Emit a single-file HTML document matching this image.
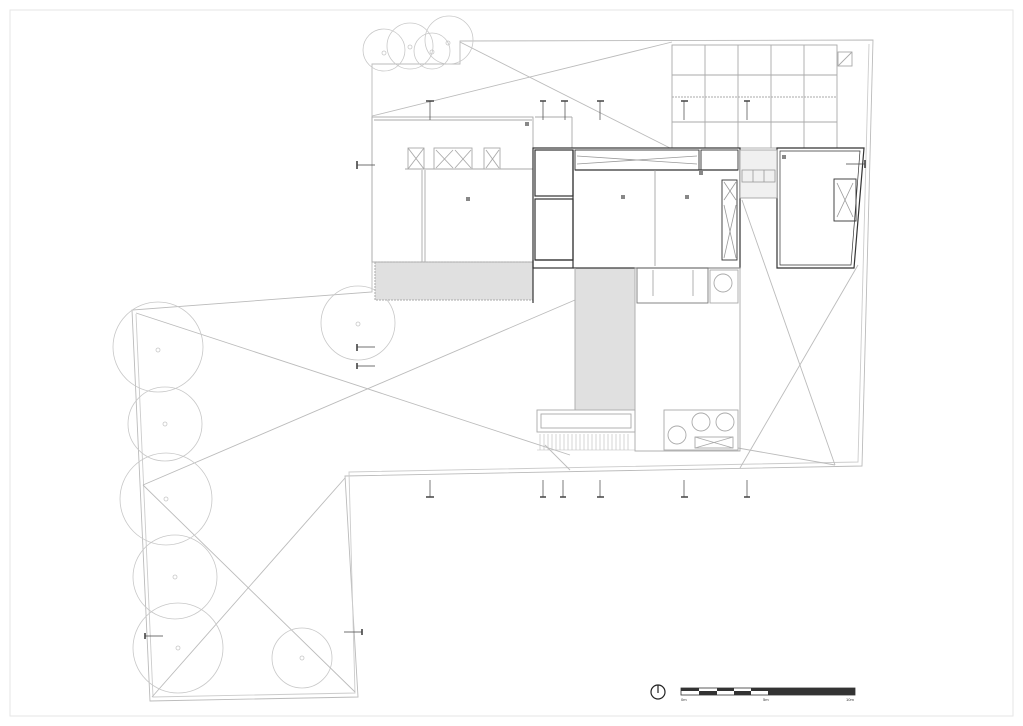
<!DOCTYPE html>
<html><head><meta charset="utf-8"><style>html,body{margin:0;padding:0;background:#fff}svg{display:block}</style></head>
<body>
<svg width="1023" height="726" viewBox="0 0 1023 726" xmlns="http://www.w3.org/2000/svg" font-family="Liberation Sans, sans-serif">
<rect x="10" y="10" width="1003" height="706" fill="none" stroke="#e6e6e6" stroke-width="1"/>
<g fill="none" stroke="#bbb" stroke-width="0.9">
<polygon points="372,64 460,64 460,41 873,40 862,466 345,476 358,697 150,701 132,310 372,292"/>
<polyline points="869,44 858,462 349,472 355,693 153,697 136,314" stroke="#ccc"/>
<line x1="136" y1="313" x2="570" y2="455"/>
<line x1="143" y1="485" x2="575" y2="300"/>
<line x1="143" y1="485" x2="355" y2="692"/>
<line x1="345" y1="478" x2="152" y2="697"/>
<line x1="460" y1="42" x2="670" y2="148"/>
<line x1="372" y1="116" x2="672" y2="42"/>
<line x1="742" y1="200" x2="835" y2="465"/>
<line x1="858" y1="265" x2="740" y2="468"/>
<line x1="545" y1="445" x2="570" y2="470"/>
<line x1="738" y1="448" x2="835" y2="465"/>
</g>
<g fill="none" stroke="#aaa" stroke-width="0.9">
<rect x="672" y="45" width="165" height="103"/>
<line x1="705" y1="45" x2="705" y2="148"/><line x1="738" y1="45" x2="738" y2="148"/>
<line x1="771" y1="45" x2="771" y2="148"/><line x1="804" y1="45" x2="804" y2="148"/>
<line x1="672" y1="75" x2="837" y2="75"/><line x1="672" y1="97" x2="837" y2="97" stroke-dasharray="2,1"/>
<line x1="672" y1="122" x2="837" y2="122"/>
<rect x="838" y="52" width="14" height="14"/><line x1="838" y1="66" x2="852" y2="52"/>
</g>
<g fill="none" stroke="#c8c8c8" stroke-width="0.8">
<circle cx="158" cy="347" r="45"/><circle cx="158" cy="350" r="2"/>
<circle cx="165" cy="424" r="37"/><circle cx="165" cy="424" r="2"/>
<circle cx="166" cy="499" r="46"/><circle cx="166" cy="499" r="2"/>
<circle cx="175" cy="577" r="42"/><circle cx="175" cy="577" r="2"/>
<circle cx="178" cy="648" r="45"/><circle cx="178" cy="648" r="2"/>
<circle cx="302" cy="658" r="30"/><circle cx="302" cy="658" r="2"/>
<circle cx="358" cy="323" r="37"/><circle cx="358" cy="324" r="2"/>
<circle cx="384" cy="50" r="21"/><circle cx="410" cy="46" r="23"/><circle cx="432" cy="51" r="18"/><circle cx="449" cy="40" r="24"/>
<circle cx="384" cy="53" r="2"/><circle cx="410" cy="47" r="2"/><circle cx="432" cy="52" r="2"/><circle cx="448" cy="43" r="2"/>
</g>
<rect x="375" y="262" width="158" height="38" fill="#e0e0e0" stroke="#aaa" stroke-dasharray="2,1"/>
<rect x="575" y="268" width="60" height="142" fill="#e0e0e0"/>
<g fill="none" stroke="#aaa" stroke-width="0.9">
<rect x="372" y="117" width="161" height="145"/>
<line x1="374" y1="120" x2="532" y2="120"/>
<line x1="422" y1="170" x2="422" y2="262"/><line x1="425" y1="170" x2="425" y2="262"/>
<rect x="408" y="148" width="16" height="21"/><rect x="434" y="148" width="38" height="21"/><rect x="484" y="148" width="16" height="21"/>
<line x1="408" y1="148" x2="424" y2="169"/><line x1="424" y1="148" x2="408" y2="169"/>
<line x1="436" y1="150" x2="453" y2="168"/><line x1="453" y1="150" x2="436" y2="168"/>
<line x1="455" y1="150" x2="471" y2="168"/><line x1="471" y1="150" x2="455" y2="168"/>
<line x1="486" y1="150" x2="499" y2="168"/><line x1="499" y1="150" x2="486" y2="168"/>
<line x1="405" y1="169" x2="533" y2="169"/>
<line x1="535" y1="117" x2="572" y2="117"/><line x1="572" y1="117" x2="572" y2="148"/>
</g>
<g fill="#888"><rect x="525" y="122" width="4" height="4"/><rect x="466" y="197" width="4" height="4"/><rect x="621" y="195" width="4" height="4"/><rect x="685" y="195" width="4" height="4"/><rect x="699" y="171" width="4" height="4"/><rect x="782" y="155" width="4" height="4"/></g>
<g fill="none" stroke="#333" stroke-width="1.2">
<rect x="533" y="148" width="207" height="120"/>
<rect x="535" y="150" width="38" height="46"/>
<rect x="535" y="199" width="38" height="61"/>
<line x1="573" y1="150" x2="573" y2="268"/>
<line x1="575" y1="170" x2="738" y2="170"/>
<rect x="575" y="150" width="124" height="20" stroke-width="0.9"/>
<rect x="701" y="150" width="37" height="20" stroke-width="0.9"/>
<rect x="722" y="180" width="15" height="80" stroke-width="0.9"/>
<line x1="533" y1="260" x2="533" y2="303"/>
<line x1="535" y1="260" x2="573" y2="260"/>
<polygon points="777,148 864,148 854,268 777,268"/>
<polygon points="780,151 860,151 851,265 780,265" stroke-width="0.7"/>
<rect x="834" y="179" width="22" height="42" stroke-width="0.9"/>
</g>
<g fill="none" stroke="#999" stroke-width="0.8">
<line x1="655" y1="170" x2="655" y2="266"/>
<line x1="724" y1="182" x2="736" y2="200"/><line x1="736" y1="182" x2="724" y2="200"/>
<line x1="724" y1="205" x2="736" y2="258"/><line x1="736" y1="205" x2="724" y2="258"/>
<line x1="837" y1="183" x2="853" y2="217"/><line x1="853" y1="183" x2="837" y2="217"/>
<rect x="740" y="150" width="37" height="48" fill="#f0f0f0"/>
<rect x="742" y="170" width="33" height="12"/><line x1="753" y1="170" x2="753" y2="182"/><line x1="764" y1="170" x2="764" y2="182"/>
<line x1="577" y1="156" x2="697" y2="164"/><line x1="577" y1="164" x2="697" y2="156"/>
</g>
<g fill="none" stroke="#aaa" stroke-width="0.9">
<rect x="635" y="268" width="105" height="183"/>
<line x1="575" y1="268" x2="575" y2="410"/>
<rect x="637" y="268" width="71" height="35" stroke="#777"/>
<line x1="653" y1="270" x2="653" y2="296"/><line x1="693" y1="270" x2="693" y2="296"/>
<rect x="710" y="270" width="28" height="33"/><circle cx="723" cy="283" r="9"/>
<rect x="537" y="410" width="98" height="22"/><rect x="541" y="414" width="90" height="14"/>
<rect x="664" y="410" width="74" height="40"/>
<circle cx="701" cy="422" r="9"/><circle cx="725" cy="422" r="9"/><circle cx="677" cy="435" r="9"/>
<rect x="695" y="437" width="38" height="11"/><line x1="695" y1="437" x2="733" y2="448"/><line x1="733" y1="437" x2="695" y2="448"/>
</g>
<g stroke="#bbb" stroke-width="0.6">
<line x1="537" y1="450" x2="635" y2="450"/>
<path d="M540 434V450M544 434V450M548 434V450M552 434V450M556 434V450M560 434V450M564 434V450M568 434V450M572 434V450M576 434V450M580 434V450M584 434V450M588 434V450M592 434V450M596 434V450M600 434V450M604 434V450M608 434V450M612 434V450M616 434V450M620 434V450M624 434V450M628 434V450"/>
</g>
<g stroke="#444" fill="none">
<path d="M430 101V120M543 101V120M565 101V120M600 101V120M684 101V120M747 101V120M430 480V497M543 480V497M563 480V497M600 480V497M684 480V497M747 480V497M357 165H375M357 347H375M357 366H375M145 636H163M344 632H362M846 164H865" stroke-width="0.7"/>
<path d="M426 101H434M540 101H546M561 101H568M597 101H604M681 101H688M744 101H750M426 497H434M540 497H546M560 497H566M597 497H604M681 497H688M744 497H750M357 161V169M357 344V351M357 363V369M145 633V639M362 629V635M865 160V168" stroke-width="1.6"/>
</g>
<circle cx="658" cy="692" r="7" fill="none" stroke="#222" stroke-width="1.2"/>
<line x1="658" y1="685" x2="658" y2="693" stroke="#222" stroke-width="1.2"/>
<rect x="681" y="688" width="174" height="7" fill="#fff" stroke="#333" stroke-width="0.8"/>
<rect x="681" y="688" width="18" height="3" fill="#333"/><rect x="699" y="691" width="18" height="4" fill="#333"/>
<rect x="717" y="688" width="17" height="3" fill="#333"/><rect x="734" y="691" width="17" height="4" fill="#333"/>
<rect x="751" y="688" width="17" height="3" fill="#333"/><rect x="768" y="688" width="87" height="7" fill="#333"/>
<text x="681" y="701" font-size="4" fill="#333">0m</text><text x="763" y="701" font-size="4" fill="#333">5m</text><text x="846" y="701" font-size="4" fill="#333">10m</text>
</svg>
</body></html>
